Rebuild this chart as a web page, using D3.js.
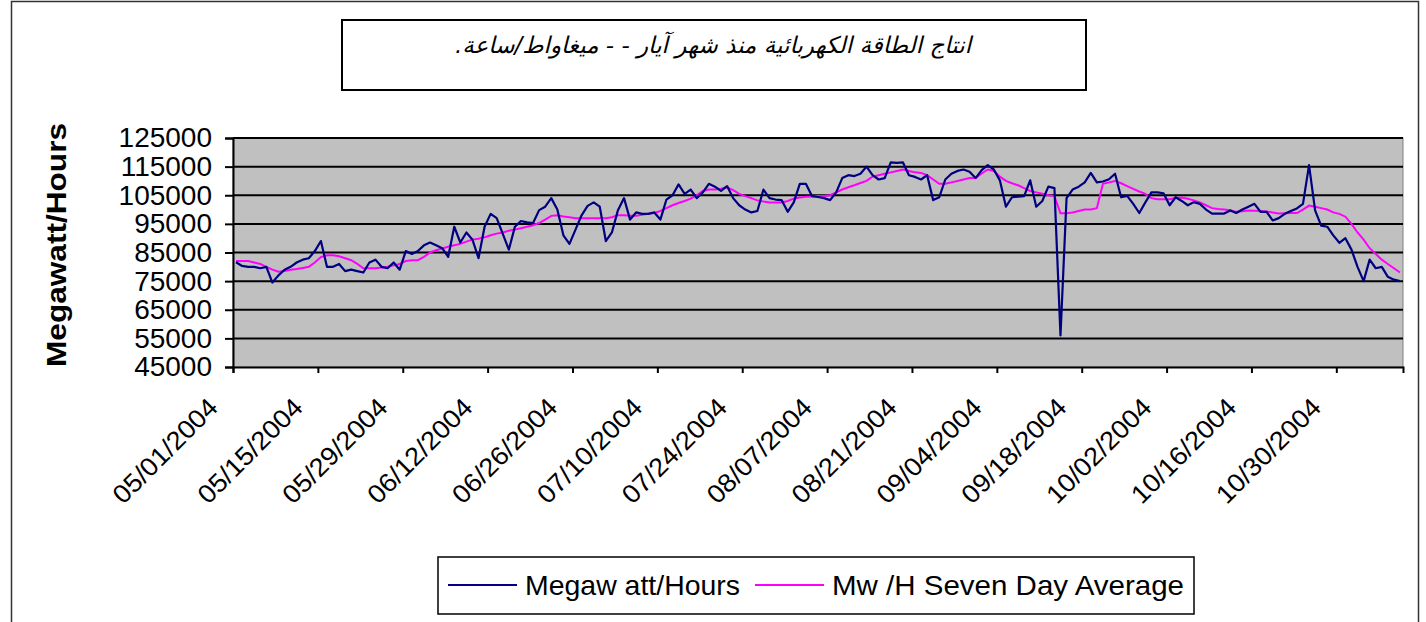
<!DOCTYPE html>
<html>
<head>
<meta charset="utf-8">
<script src="https://cdn.jsdelivr.net/npm/d3@7"></script>
<style>
	body { margin: 0; background: #ffffff; }
	svg { display: block; }
</style>
</head>
<body>
<div id="chart"></div>
<script>
// daily values, 05/01/2004 - 11/09/2004 (thousands of MW/h)
var megawattHours = [
	81.6, 80.3, 80.0, 80.0, 79.5, 80.0, 74.5, 77.0, 79.0, 80.0,
	81.5, 82.5, 83.0, 85.5, 89.0, 80.0, 80.0, 81.0, 78.5, 79.0,
	78.5, 78.0, 81.5, 82.5, 80.0, 79.5, 81.5, 79.0, 85.5, 84.5,
	85.5, 87.5, 88.5, 87.5, 86.5, 83.5, 94.0, 88.5, 92.0, 89.5,
	83.0, 94.0, 98.5, 97.0, 91.5, 86.0, 94.0, 96.0, 95.5, 95.3,
	99.8, 101.0, 104.0, 100.0, 91.0, 88.0, 93.0, 98.0, 101.3, 102.5,
	101.0, 89.0, 92.0, 99.8, 104.0, 96.5, 99.0, 98.5, 98.5, 99.0,
	96.5, 103.5, 105.0, 108.8, 105.5, 107.0, 104.0, 106.0, 109.0, 108.0,
	106.5, 108.2, 104.0, 101.5, 100.0, 99.0, 99.5, 107.0, 104.0, 103.5,
	103.3, 99.2, 102.5, 109.0, 109.0, 104.7, 104.4, 104.0, 103.3, 106.0,
	111.0, 112.0, 111.7, 112.5, 115.0, 112.0, 110.5, 111.0, 116.5, 116.3,
	116.5, 112.0, 111.4, 110.5, 112.0, 103.3, 104.3, 110.5, 112.5, 113.5,
	114.0, 113.2, 111.0, 113.8, 115.5, 114.0, 110.2, 101.0, 104.3, 104.5,
	104.7, 110.2, 101.0, 103.0, 108.0, 107.5, 56.0, 104.0, 107.0, 108.0,
	109.5, 112.8, 109.5, 109.8, 110.6, 112.5, 104.3, 104.8, 102.0, 98.8,
	102.5, 106.0, 106.0, 105.7, 101.5, 104.3, 103.0, 101.5, 102.6, 102.0,
	100.0, 98.6, 98.6, 98.6, 99.7, 98.8, 100.0, 101.0, 102.0, 99.2,
	99.2, 96.2, 97.0, 98.5, 99.5, 100.4, 102.0, 115.5, 99.7, 94.4,
	94.0, 91.0, 88.4, 90.0, 86.0, 80.0, 75.0, 82.5, 79.5, 80.0,
	76.5, 75.5, 75.0
]

var sevenDayAverage = [
	82.0, 82.0, 82.0, 81.5, 81.0, 80.0, 79.0, 78.3, 78.5, 79.0,
	79.2, 79.6, 80.0, 81.5, 83.4, 84.0, 84.0, 83.7, 83.0, 82.3,
	81.0, 79.5, 79.5, 79.5, 79.8, 80.0, 80.5, 81.0, 82.0, 82.3,
	82.3, 83.5, 85.0, 85.8, 86.4, 87.0, 87.5, 88.0, 88.8, 89.5,
	89.8, 90.3, 91.0, 91.6, 92.0, 92.6, 93.0, 93.5, 94.0, 94.5,
	95.3, 96.5, 97.8, 98.0, 97.6, 97.3, 97.0, 97.0, 97.0, 97.0,
	97.0, 97.0, 97.3, 98.0, 98.0, 97.8, 97.8, 98.2, 98.5, 98.8,
	99.5, 100.5, 101.5, 102.3, 103.0, 103.8, 105.0, 106.5, 107.0, 107.0,
	107.3, 107.8, 106.8, 105.5, 104.7, 104.0, 103.2, 102.8, 102.5, 102.5,
	102.5, 103.0, 103.8, 104.2, 104.5, 104.6, 104.7, 104.7, 105.0, 106.0,
	107.0, 107.8, 108.5, 109.3, 110.0, 111.5, 112.0, 112.5, 113.0, 113.5,
	114.0, 113.5, 113.0, 112.8, 112.0, 110.5, 109.0, 109.0, 109.5, 110.0,
	110.5, 111.0, 111.0, 112.6, 114.0, 113.5, 111.5, 110.0, 109.2, 108.5,
	107.5, 106.5, 106.0, 105.5, 105.0, 104.7, 98.7, 98.7, 99.0, 99.5,
	100.0, 100.0, 100.5, 109.0, 109.5, 110.0, 109.2, 108.2, 107.2, 106.3,
	105.5, 104.0, 103.6, 103.6, 103.6, 104.0, 104.2, 103.8, 103.2, 102.5,
	101.5, 100.5, 100.2, 100.0, 99.8, 99.2, 99.4, 99.7, 99.6, 99.5,
	99.3, 99.0, 98.6, 98.7, 98.8, 98.8, 100.0, 101.4, 101.0, 100.5,
	100.0, 99.0, 98.5, 97.5, 95.0, 92.0, 89.5, 86.5, 84.5, 82.5,
	81.0, 79.5, 78.0
]

var tickLabels = ["05/01/2004", "05/15/2004", "05/29/2004", "06/12/2004", "06/26/2004",
	"07/10/2004", "07/24/2004", "08/07/2004", "08/21/2004", "09/04/2004",
	"09/18/2004", "10/02/2004", "10/16/2004", "10/30/2004"]
var yTicks = [45000, 55000, 65000, 75000, 85000, 95000, 105000, 115000, 125000]
var seriesNames = ["Megaw att/Hours", "Mw /H Seven Day Average"]

var titleText = "انتاج الطاقة الكهربائية منذ شهر آيار - - ميغاواط/ساعة."

var W = 1426, H = 622,
	plotLeft = 233, plotRight = 1403,
	plotTop = 138, plotBottom = 367,
	tickStep = 14, //days between category labels
	cBlue = "#000080",
	cPink = "#FF00FF",
	cGrey = "#C0C0C0",
	font = "Liberation Sans, Arial, sans-serif"

var svg = d3.select("#chart")
	.append("svg")
	.attr("width", W)
	.attr("height", H)

// outer chart border
svg.append("rect")
	.attr("x", 11.5)
	.attr("y", 1.5)
	.attr("width", 1407)
	.attr("height", 630)
	.attr("fill", "none")
	.attr("stroke", "#333")
	.attr("stroke-width", 1.5)

// title box
svg.append("rect")
	.attr("x", 342)
	.attr("y", 20)
	.attr("width", 744)
	.attr("height", 70)
	.attr("fill", "white")
	.attr("stroke", "black")
	.attr("stroke-width", 2)

svg.append("text")
	.attr("x", 713)
	.attr("y", 53)
	.attr("text-anchor", "middle")
	.attr("direction", "rtl")
	.attr("font-family", "DejaVu Sans, Noto Sans, sans-serif")
	.attr("font-style", "italic")
	.attr("font-size", 23)
	.text(titleText)

var x = d3.scaleLinear()
	.domain([0, megawattHours.length])
	.range([plotLeft, plotRight])

var y = d3.scaleLinear()
	.domain([45000, 125000])
	.range([plotBottom, plotTop])

svg.append("rect")
	.attr("x", plotLeft)
	.attr("y", plotTop)
	.attr("width", plotRight - plotLeft)
	.attr("height", plotBottom - plotTop)
	.attr("fill", cGrey)
	.attr("stroke", "#808080")
	.attr("stroke-width", 1)

// gridlines
svg.selectAll(".grid")
	.data(yTicks.slice(1))
	.enter()
	.append("line")
	.attr("class", "grid")
	.attr("x1", plotLeft)
	.attr("x2", plotRight)
	.attr("y1", function(d){ return y(d) })
	.attr("y2", function(d){ return y(d) })
	.attr("stroke", "black")
	.attr("stroke-width", 2)

// y axis
var yAxis = d3.axisLeft(y)
	.tickValues(yTicks)
	.tickSize(8)
	.tickPadding(13)
	.tickFormat(d3.format("d"))

svg.append("g")
	.attr("transform", "translate(" + plotLeft + ",0)")
	.call(yAxis)
	.call(function(g){
		g.select(".domain").attr("stroke-width", 2)
		g.selectAll(".tick line").attr("stroke-width", 2)
		g.selectAll("text")
			.attr("font-family", font)
			.attr("font-size", 28)
			.attr("fill", "black")
	})

// x axis, ticks every 14 days
var xTickVals = tickLabels.map(function(d, i){ return i * tickStep })

var xAxis = d3.axisBottom(x)
	.tickValues(xTickVals)
	.tickSize(6)
	.tickFormat(function(d, i){ return tickLabels[i] })

svg.append("g")
	.attr("transform", "translate(0," + plotBottom + ")")
	.call(xAxis)
	.call(function(g){
		g.select(".domain").attr("stroke-width", 2)
		g.selectAll(".tick line").attr("stroke-width", 2)
		g.selectAll("text")
			.attr("font-family", font)
			.attr("font-size", 26)
			.attr("fill", "black")
			.attr("text-anchor", "end")
			.attr("textLength", 136)
			.attr("lengthAdjust", "spacingAndGlyphs")
			.attr("dy", 0)
			.attr("y", 0)
			.attr("transform", "translate(-14,42) rotate(-45)")
	})

svg.append("text")
	.attr("transform", "translate(66," + plotBottom + ") rotate(-90)")
	.attr("text-anchor", "start")
	.attr("font-family", font)
	.attr("font-weight", "bold")
	.attr("font-size", 28)
	.attr("textLength", 244)
	.attr("lengthAdjust", "spacingAndGlyphs")
	.text("Megawatt/Hours")

// series lines
var line = d3.line()
	.x(function(d, i){ return x(i + 0.5) })
	.y(function(d){ return y(d * 1000) })

svg.append("path")
	.datum(sevenDayAverage)
	.attr("d", line)
	.attr("fill", "none")
	.attr("stroke", cPink)
	.attr("stroke-width", 2)

svg.append("path")
	.datum(megawattHours)
	.attr("d", line)
	.attr("fill", "none")
	.attr("stroke", cBlue)
	.attr("stroke-width", 2.2)
	.attr("stroke-linejoin", "round")

// legend
var legend = svg.append("g")
	.attr("transform", "translate(438,557)")

legend.append("rect")
	.attr("width", 756)
	.attr("height", 57)
	.attr("fill", "white")
	.attr("stroke", "black")
	.attr("stroke-width", 1.5)

var legendItems = [{"name": seriesNames[0], "color": cBlue, "x": 10, "w": 215},
				   {"name": seriesNames[1], "color": cPink, "x": 317, "w": 352}]

legend.selectAll(".legLine")
	.data(legendItems)
	.enter()
	.append("line")
	.attr("x1", function(d){ return d.x })
	.attr("x2", function(d){ return d.x + 69 })
	.attr("y1", 28)
	.attr("y2", 28)
	.attr("stroke", function(d){ return d.color })
	.attr("stroke-width", 2)

legend.selectAll(".legText")
	.data(legendItems)
	.enter()
	.append("text")
	.attr("x", function(d){ return d.x + 77 })
	.attr("y", 38)
	.attr("font-family", font)
	.attr("font-size", 28)
	.attr("textLength", function(d){ return d.w })
	.attr("lengthAdjust", "spacingAndGlyphs")
	.text(function(d){ return d.name })
</script>
</body>
</html>
